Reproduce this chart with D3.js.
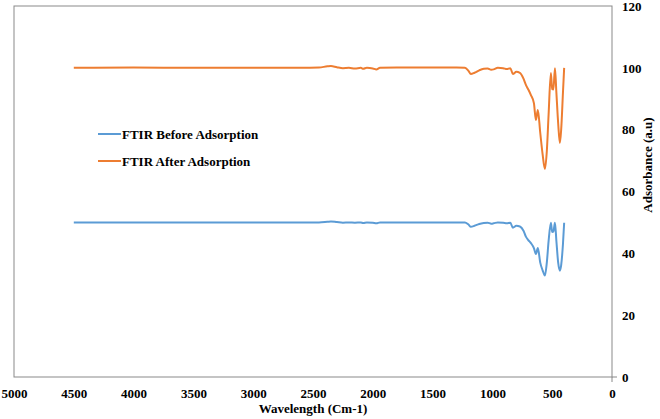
<!DOCTYPE html>
<html><head><meta charset="utf-8">
<script src="https://cdn.jsdelivr.net/npm/d3@7"></script>
<style>body{margin:0;background:#fff}svg{display:block}text{font-family:"Liberation Serif","Times New Roman",serif;font-weight:bold;fill:#000}</style>
</head><body><svg id="c" width="660" height="419"></svg>
<script>
const wavenumbers = [4500,4000,3500,3000,2600,2450,2380,2350,2300,2250,2200,2150,2100,2080,2050,2000,1970,1940,1800,1500,1300,1230,1200,1180,1150,1110,1072,1040,1010,990,955,910,880,850,829,800,770,740,720,700,678,653,636,620,600,580,561,545,530,511,500,490,477,465,450,436,425,410,400];
const afterValues = [100,100.1,100,100,100,100.1,100.5,100.6,100.2,99.9,100,99.8,100,99.7,100,99.8,99.5,100,100.1,100.1,100.1,100,99,98,98.4,99.2,99.7,99.8,99.4,99.5,100,99.9,99.6,99.9,98.0,98.7,98.4,96.5,94.5,93.0,91.2,88.6,83.1,86.4,79,72,67.3,73,85,98.3,93.1,93,99.9,92,82,75.7,80,92,100];
const beforeValues = [50,50,50,50,50,50,50.2,50.3,50.1,49.9,50,49.9,50,49.8,50,49.9,49.7,50,50,50,50,50,49.3,48.6,48.9,49.5,49.8,49.9,49.6,49.7,50,49.9,49.7,49.9,48.3,48.9,48.7,47.3,45.4,44.3,43.3,41.7,39.8,41.7,37,34.5,32.8,37,44,49.9,46.9,47,49.9,44,37,34.4,36.2,43,49.9];
const xTicks = [5000,4500,4000,3500,3000,2500,2000,1500,1000,500,0];
const yTicks = [0,20,40,60,80,100,120];
const seriesNames = ["FTIR Before Adsorption","FTIR After Adsorption"];
const colors = ["#5B9BD5","#ED7D31"];

const svg = d3.select("#c");
const L=14, R=612, T=6, B=377;
const x = d3.scaleLinear().domain([5000,0]).range([L,R]);
const y = d3.scaleLinear().domain([0,120]).range([B,T]);

svg.append("rect").attr("x",L).attr("y",T).attr("width",R-L).attr("height",B-T)
  .attr("fill","none").attr("stroke","#898989").attr("stroke-width",1);

const xa = svg.append("g").attr("transform",`translate(0,${B})`)
  .call(d3.axisBottom(x).tickValues(xTicks).tickSize(0).tickPadding(12).tickFormat(d3.format("d")));
xa.select(".domain").remove();
xa.selectAll("text").attr("font-size",13).attr("font-family","Liberation Serif").attr("font-weight","bold");

const ya = svg.append("g").attr("transform",`translate(${R},0)`)
  .call(d3.axisRight(y).tickValues(yTicks).tickSize(0).tickPadding(10));
ya.select(".domain").remove();
ya.selectAll("text").attr("font-size",13).attr("font-family","Liberation Serif").attr("font-weight","bold");

svg.append("line").attr("x1",R).attr("x2",R+5).attr("y1",B).attr("y2",B).attr("stroke","#898989");
svg.append("line").attr("x1",R).attr("x2",R).attr("y1",B).attr("y2",B+5).attr("stroke","#898989");

svg.append("text").attr("x",(L+R)/2).attr("y",413).attr("text-anchor","middle").attr("font-size",13).text("Wavelength (Cm-1)");
svg.append("text").attr("transform",`translate(652,165) rotate(-90)`).attr("text-anchor","middle").attr("font-size",13).text("Adsorbance (a.u)");

const line = d3.line().x((d,i)=>x(wavenumbers[i])).y(d=>y(d)).curve(d3.curveMonotoneX);
[beforeValues, afterValues].forEach((vals,k)=>{
  svg.append("path").datum(vals).attr("d",line).attr("fill","none")
    .attr("stroke",colors[k]).attr("stroke-width",2).attr("stroke-linejoin","round");
});

seriesNames.forEach((n,k)=>{
  const ly = 134 + k*27;
  svg.append("line").attr("x1",98).attr("x2",121).attr("y1",ly).attr("y2",ly).attr("stroke",colors[k]).attr("stroke-width",2);
  svg.append("text").attr("x",122).attr("y",ly+4.5).attr("font-size",13).text(n);
});
</script></body></html>
